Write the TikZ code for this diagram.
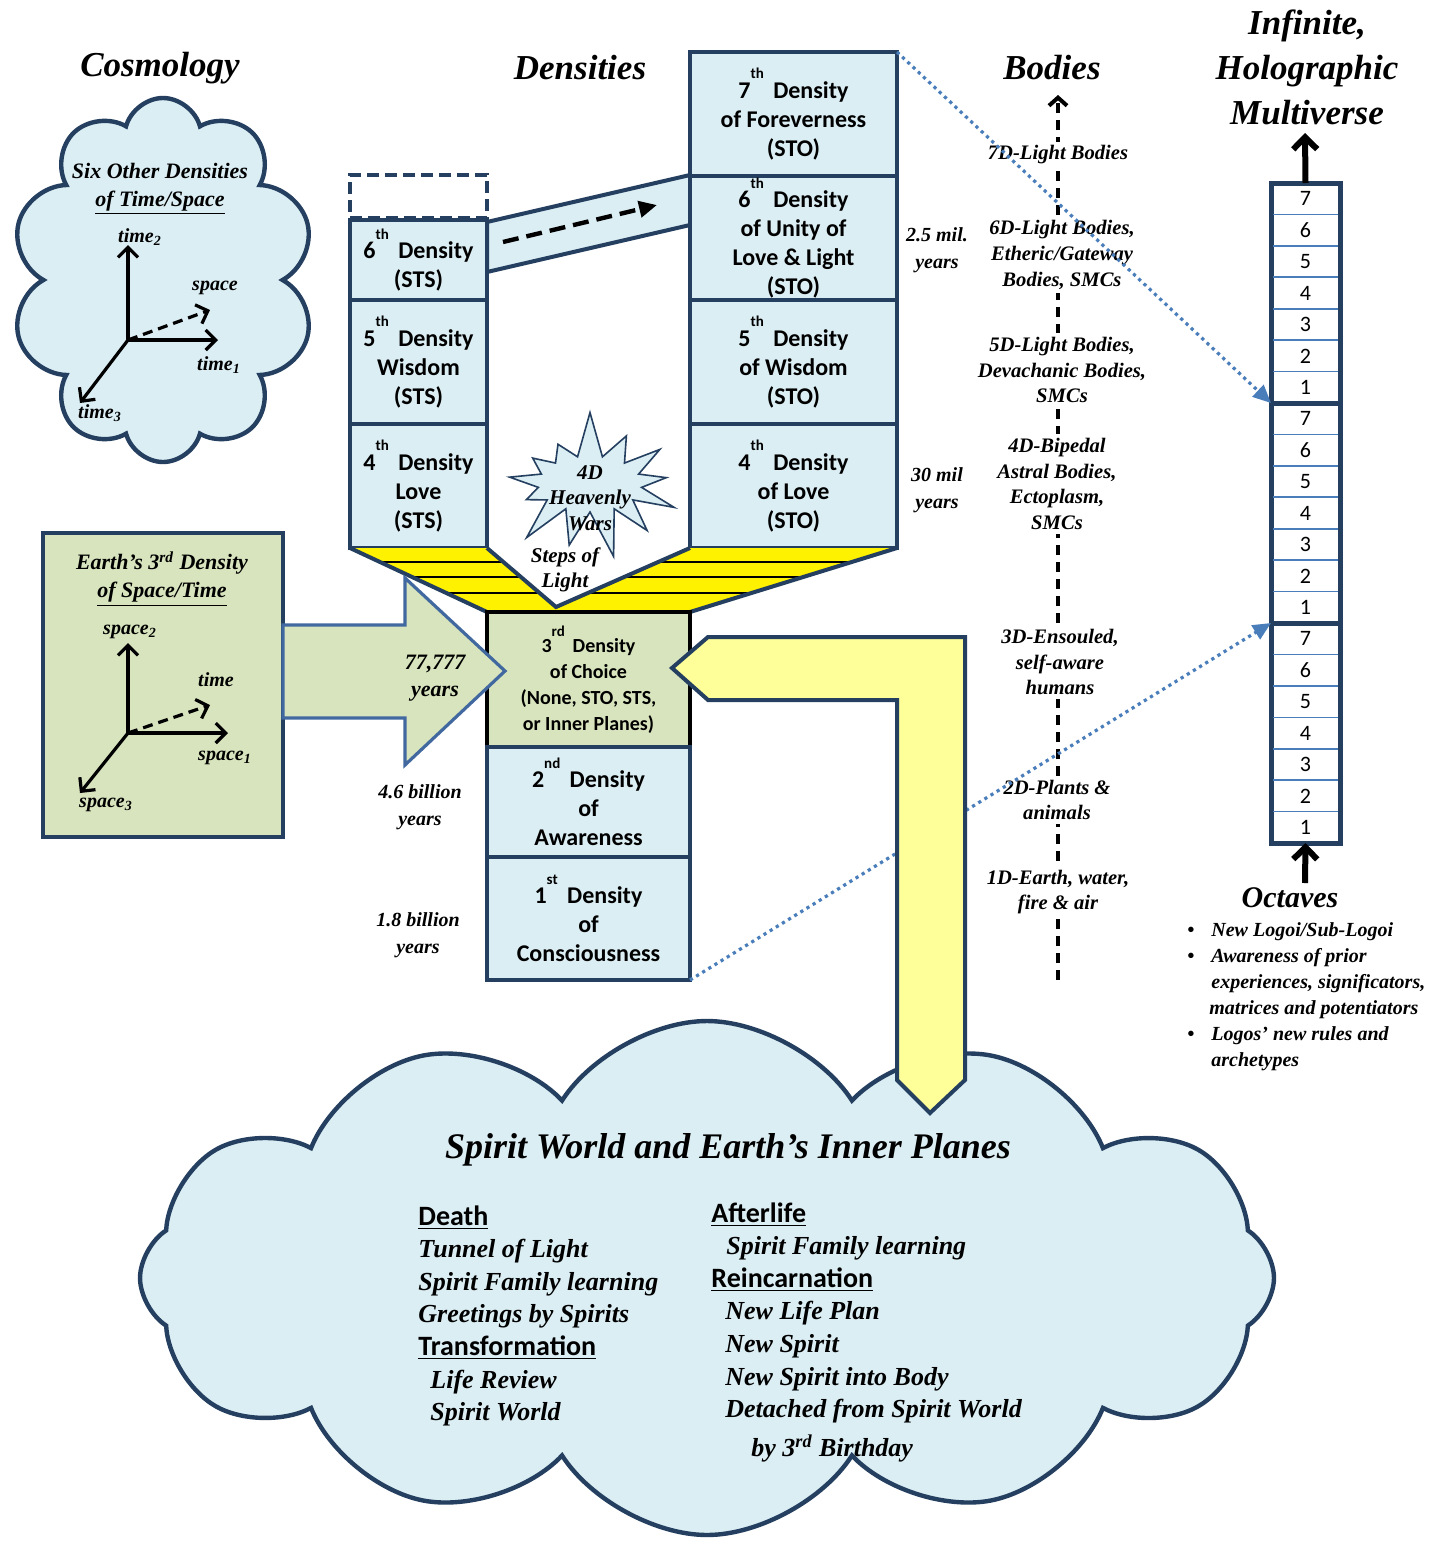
\documentclass[tikz,border=0pt]{standalone}
\usepackage{fontspec}
\setmainfont{Carlito}
\newfontfamily\scrfont{Liberation Serif}
\usetikzlibrary{shapes.symbols,arrows.meta}

\definecolor{dkblue}{RGB}{36,63,96}
\definecolor{ltblue}{RGB}{219,238,244}
\definecolor{ltgreen}{RGB}{215,228,189}
\definecolor{ltyellow}{RGB}{255,255,153}
\definecolor{midblue}{RGB}{74,126,187}
\definecolor{arrblue}{RGB}{65,105,160}

\newcommand{\scrit}{\scrfont\bfseries\itshape}
\newcommand{\ordsup}[1]{\raisebox{0.8em}{\fontsize{7.5}{8}\selectfont #1}\,}
\newcommand{\cloudhead}[1]{{\bfseries\fontsize{14}{16.3}\selectfont\underline{#1}}}
\newcommand{\cloudit}[1]{{\scrit #1}}

\begin{document}
\begin{tikzpicture}[x=0.5pt,y=-0.5pt,
  dens/.style={draw=dkblue,line width=2pt,fill=ltblue,inner sep=0pt,outer sep=0pt,
    font=\fontsize{12}{14.5}\selectfont\bfseries,align=center},
  choice/.style={dens,draw=black,fill=ltgreen,font=\fontsize{10}{13}\selectfont\bfseries},
  octave/.style={draw=dkblue,line width=2.5pt,fill=white,inner sep=0pt,outer sep=0pt,
    minimum width=34.5pt,minimum height=110pt},
  octnum/.style={font=\fontsize{11}{11}\selectfont,inner sep=0pt},
  body/.style={font=\scrit\fontsize{10.3}{12.8}\selectfont,align=center,fill=white,inner sep=2pt},
  years/.style={font=\scrit\fontsize{10}{13.5}\selectfont,align=center},
  heading/.style={font=\scrit\fontsize{17.5}{22.5}\selectfont,align=center},
  axlabel/.style={font=\scrit\fontsize{10}{12}\selectfont,inner sep=1pt},
  axis/.style={line width=1.6pt,-{Straight Barb[length=5pt,width=10pt]}},
  bigarrow/.style={line width=3pt,-{Straight Barb[length=6pt,width=12pt]}},
  link/.style={midblue,line width=1.6pt,dash pattern=on 1.6pt off 2pt,-{Triangle[length=9pt,width=8pt]}},
  blockarrow/.style={draw=dkblue,line width=2pt,fill=ltyellow},
  puff/.style={cloud,draw=dkblue,line width=2.2pt,fill=ltblue,inner sep=0pt}
]
\useasboundingbox (0,0) rectangle (1447,1543);
\fill[white] (0,0) rectangle (1447,1543);

% titles
\node[heading] (cosmology) at (160,68) {Cosmology};
\node[heading] (densities) at (580,68) {Densities};
\node[heading] (bodies) at (1052,68) {Bodies};
\node[heading] (multiverse) at (1307,67) {Infinite,\\Holographic\\Multiverse};

% cosmology cloud
\node[puff,cloud puffs=10,aspect=0.85,minimum width=152pt,minimum height=182pt] (cosmos) at (163,280) {};
\node[font=\scrit\fontsize{11}{14}\selectfont,align=center] (cosmostext) at (160,189) {Six Other Densities\\\underline{of Time/Space}};
\coordinate (co) at (128,340);
\coordinate (ct2) at (128,245);
\coordinate (ct1) at (218,340);
\coordinate (cs) at (210,310);
\coordinate (ct3) at (80,403);
\draw[axis] (co) -- (ct2);
\draw[axis] (co) -- (ct1);
\draw[axis,dash pattern=on 5pt off 3pt] (co) -- (cs);
\draw[axis] (co) -- (ct3);
\node[axlabel] (lt2) at (140,237) {time\textsubscript{2}};
\node[axlabel] (lt1) at (219,365) {time\textsubscript{1}};
\node[axlabel] (lsp) at (215,288) {space};
\node[axlabel] (lt3) at (100,413) {time\textsubscript{3}};

% earth box
\node[draw=dkblue,line width=2pt,fill=ltgreen,minimum width=120pt,minimum height=152pt] (earth) at (163,685) {};
\node[font=\scrit\fontsize{11}{14}\selectfont,align=center] (earthtext) at (162,579) {Earth’s 3\textsuperscript{rd} Density\\\underline{of Space/Time}};
\coordinate (eo) at (128,733);
\coordinate (es2) at (128,643);
\coordinate (es1) at (228,733);
\coordinate (et) at (210,705);
\coordinate (es3) at (80,793);
\draw[axis] (eo) -- (es2);
\draw[axis] (eo) -- (es1);
\draw[axis,dash pattern=on 5pt off 3pt] (eo) -- (et);
\draw[axis] (eo) -- (es3);
\node[axlabel] (ls2) at (130,632) {space\textsubscript{2}};
\node[axlabel] (ls1) at (225,758) {space\textsubscript{1}};
\node[axlabel] (ltm) at (216,680) {time};
\node[axlabel] (ls3) at (106,805) {space\textsubscript{3}};

% band from STS to STO
\draw[draw=dkblue,line width=2pt,fill=ltblue] (487,222) -- (690,175) -- (690,225) -- (487,272) -- cycle;
\coordinate (bandl) at (503,242);
\coordinate (bandr) at (657,205);
\draw[line width=2.2pt,dash pattern=on 8pt off 4pt,-{Triangle[length=9pt,width=8pt]}] (bandl) -- (bandr);

% STS column
\node[dens,fill=white,dash pattern=on 6pt off 3pt,minimum width=68.5pt,minimum height=21.5pt] (sts7) at (418.5,196.5) {};
\node[dens,minimum width=68.5pt,minimum height=40pt] (sts6) at (418.5,260) {6\ordsup{th} Density\\(STS)};
\node[dens,minimum width=68.5pt,minimum height=62pt] (sts5) at (418.5,362) {5\ordsup{th} Density\\Wisdom\\(STS)};
\node[dens,minimum width=68.5pt,minimum height=62pt] (sts4) at (418.5,486) {4\ordsup{th} Density\\Love\\(STS)};

% STO column
\node[dens,minimum width=103.5pt,minimum height=62pt] (sto7) at (793.5,114) {7\ordsup{th} Density\\of Foreverness\\(STO)};
\node[dens,minimum width=103.5pt,minimum height=62pt] (sto6) at (793.5,238) {6\ordsup{th} Density\\of Unity of\\Love \& Light\\(STO)};
\node[dens,minimum width=103.5pt,minimum height=62pt] (sto5) at (793.5,362) {5\ordsup{th} Density\\of Wisdom\\(STO)};
\node[dens,minimum width=103.5pt,minimum height=62pt] (sto4) at (793.5,486) {4\ordsup{th} Density\\of Love\\(STO)};

% steps of light
\coordinate (apex) at (556,607);
\fill[yellow] (sts4.south west) -- (sts4.south east) -- (apex) -- (sto4.south west) -- (sto4.south east)
  -- (690,612) -- (487,612) -- cycle;
\begin{scope}
\clip (sts4.south west) -- (sts4.south east) -- (apex) -- (sto4.south west) -- (sto4.south east)
  -- (690,612) -- (487,612) -- cycle;
\foreach \y in {562,577,593}
  \draw[line width=1pt] (340,\y) -- (910,\y);
\end{scope}
\draw[dkblue,line width=2pt] (sts4.south west) -- (487,612);
\draw[dkblue,line width=2pt] (sto4.south east) -- (690,612);
\draw[dkblue,line width=2pt] (sts4.south east) -- (apex) -- (sto4.south west);
\node[years,font=\scrit\fontsize{10.5}{12.5}\selectfont] (steps) at (565,570) {Steps of\\Light};

% heavenly wars
\node[starburst,starburst points=13,starburst point height=24pt,random starburst=7,
  draw=dkblue,line width=0.8pt,fill=ltblue,minimum width=100pt,minimum height=76pt] (wars) at (590,484) {};
\node[years,font=\scrit\fontsize{10.5}{12.8}\selectfont] (warstext) at (590,498) {4D\\Heavenly\\Wars};

% lower densities
\node[choice,minimum width=101.5pt,minimum height=67.5pt] (d3) at (588.5,679.5) {3\ordsup{rd} Density\\of Choice\\(None, STO, STS,\\or Inner Planes)};
\node[dens,minimum width=101.5pt,minimum height=55pt] (d2) at (588.5,802) {2\ordsup{nd} Density\\of\\Awareness};
\node[dens,minimum width=101.5pt,minimum height=61.5pt] (d1) at (588.5,918.5) {1\ordsup{st} Density\\of\\Consciousness};

% arrow from earth into the 3rd density
\draw[draw=arrblue,line width=1.6pt,fill=ltgreen] (283,625) -- (405,625) -- (405,578) -- (505,671)
  -- (405,765) -- (405,718) -- (283,718) -- cycle;
\node[years,font=\scrit\fontsize{11}{13.5}\selectfont] (y77) at (435,678) {77,777\\years};

% years
\node[years] (y25) at (937,250) {2.5 mil.\\years};
\node[years] (y30) at (937,490) {30 mil\\years};
\node[years] (y46) at (420,807) {4.6 billion\\years};
\node[years] (y18) at (418,935) {1.8 billion\\years};

% bodies
\coordinate (bbot) at (1058,980);
\coordinate (btop) at (1058,95);
\draw[line width=2pt,dash pattern=on 5pt off 3.5pt,-{Straight Barb[length=4pt,width=9pt]}] (bbot) -- (btop);
\node[body] (b7) at (1058,155) {7D-Light Bodies};
\node[body] (b6) at (1062,255) {6D-Light Bodies,\\Etheric/Gateway\\Bodies, SMCs};
\node[body] (b5) at (1062,370) {5D-Light Bodies,\\Devachanic Bodies,\\SMCs};
\node[body] (b4) at (1057,484) {4D-Bipedal\\Astral Bodies,\\Ectoplasm,\\SMCs};
\node[body] (b3) at (1060,662) {3D-Ensouled,\\self-aware\\humans};
\node[body] (b2) at (1057,800) {2D-Plants \&\\animals};
\node[body] (b1) at (1058,892) {1D-Earth, water,\\fire \& air};

% multiverse
\node[octave] (oct3) at (1305.5,293) {};
\node[octave] (oct2) at (1305.5,513) {};
\node[octave] (oct1) at (1305.5,733) {};
\foreach \t [count=\s] in {183,403,623} {
  \foreach \r in {1,...,6}
    \draw[midblue,line width=0.8pt] (1273,\t+\r*31.43) -- (1338,\t+\r*31.43);
  \foreach \n [count=\r] in {7,6,5,4,3,2,1}
    \node[octnum] (num\s-\n) at (1305.5,\t+\r*31.43-15.7) {\n};
}
\coordinate (mtop) at (1305,133);
\coordinate (mbot) at (1305,883);
\draw[bigarrow] (oct3.north) -- (mtop);
\draw[bigarrow] (mbot) -- (oct1.south);
\node[font=\scrit\fontsize{15}{18}\selectfont] (octaves) at (1290,898) {Octaves};
\node[font=\scrit\fontsize{10}{13}\selectfont,align=left,anchor=north west,inner sep=0pt] (octlist) at (1187,922)
  {\makebox[12pt][l]{\textbullet}New Logoi/Sub-Logoi\\
   \makebox[12pt][l]{\textbullet}Awareness of prior\\
   \hspace*{12pt}experiences, significators,\\
   \hspace*{11pt}matrices and potentiators\\
   \makebox[12pt][l]{\textbullet}Logos’ new rules and\\
   \hspace*{12pt}archetypes};

% links to the octaves
\draw[link] (sto7.north east) -- (oct2.north west);
\draw[link] (d1.south east) -- (oct1.north west);

% spirit world
\node[puff,cloud puffs=12,cloud puff arc=115,aspect=2.2,minimum width=567pt,minimum height=257pt] (spirit) at (707,1278) {};
\draw[blockarrow] (672,668) -- (708,637) -- (965,637) -- (965,1080) -- (930,1113) -- (897,1080)
  -- (897,700) -- (708,700) -- cycle;
\node[font=\scrit\fontsize{18}{22}\selectfont] (spirittitle) at (728,1150) {Spirit World and Earth’s Inner Planes};
\node[font=\fontsize{13}{16.3}\selectfont,align=left,anchor=north west,inner sep=0pt] (deathcol) at (418,1205)
  {\cloudhead{Death}\\
   \cloudit{Tunnel of Light}\\
   \cloudit{Spirit Family learning}\\
   \cloudit{Greetings by Spirits}\\
   \cloudhead{Transformation}\\
   \hspace*{6pt}\cloudit{Life Review}\\
   \hspace*{6pt}\cloudit{Spirit World}};
\node[font=\fontsize{13}{16.3}\selectfont,align=left,anchor=north west,inner sep=0pt] (aftercol) at (711,1202)
  {\cloudhead{Afterlife}\\
   \hspace*{7.5pt}\cloudit{Spirit Family learning}\\
   \cloudhead{Reincarnation}\\
   \hspace*{7pt}\cloudit{New Life Plan}\\
   \hspace*{7pt}\cloudit{New Spirit}\\
   \hspace*{7pt}\cloudit{New Spirit into Body}\\
   \hspace*{7pt}\cloudit{Detached from Spirit World}\\[3pt]
   \hspace*{20pt}\cloudit{by 3\textsuperscript{rd} Birthday}};
\end{tikzpicture}
\end{document}
